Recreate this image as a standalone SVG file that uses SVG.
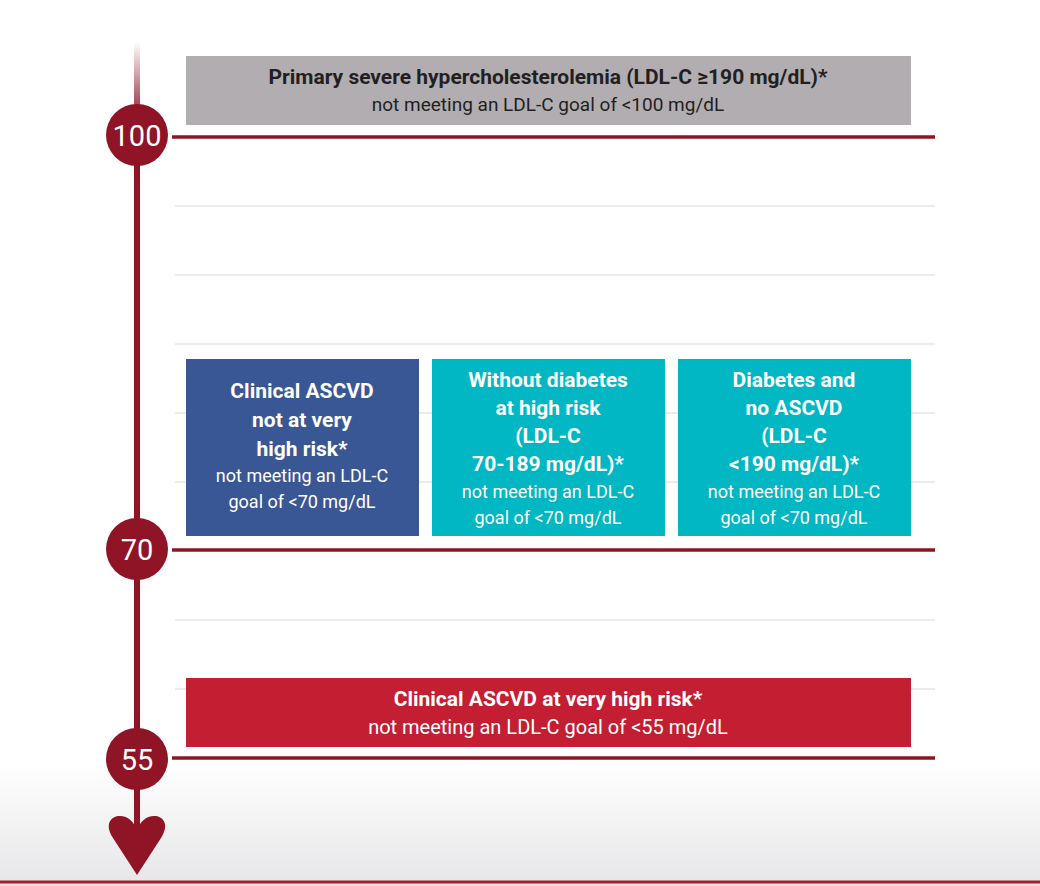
<svg xmlns="http://www.w3.org/2000/svg" width="1040" height="886" viewBox="0 0 1040 886">
<defs>
<linearGradient id="bg" x1="0" y1="0" x2="0" y2="1"><stop offset="0" stop-color="#fff"/><stop offset="1" stop-color="#e6e5e7"/></linearGradient>
<linearGradient id="ax" x1="0" y1="0" x2="0" y2="1"><stop offset="0" stop-color="#8f1426" stop-opacity="0"/><stop offset="1" stop-color="#8f1426"/></linearGradient>
<style>
text{font-family:"Roboto","Liberation Sans",sans-serif;text-anchor:middle}
.b{font-weight:bold;font-size:21px;fill:#fff}
.n{font-size:18px;fill:#fff}
.grid{stroke:#d9d8da;stroke-width:1}
.red{stroke:#8f1426;stroke-width:3.5}
.num{font-size:29px;fill:#fff}
</style>
</defs>
<rect width="1040" height="886" fill="#fff"/>
<rect y="765" width="1040" height="121" fill="url(#bg)"/>
<line x1="0" y1="882" x2="1040" y2="882" stroke="#a81c2e" stroke-width="3"/>
<g id="connectors">
<g class="grid"><line x1="175" y1="206" x2="935" y2="206"/><line x1="175" y1="275" x2="935" y2="275"/><line x1="175" y1="344" x2="935" y2="344"/><line x1="175" y1="413" x2="935" y2="413"/><line x1="175" y1="482" x2="935" y2="482"/><line x1="175" y1="620" x2="935" y2="620"/><line x1="175" y1="689" x2="935" y2="689"/></g>
<rect x="134" y="42" width="6" height="80" fill="url(#ax)"/>
<line x1="137" y1="120" x2="137" y2="830" stroke="#8f1426" stroke-width="6"/>
<line class="red" x1="172" y1="137" x2="935" y2="137"/>
<line class="red" x1="172" y1="550" x2="935" y2="550"/>
<line class="red" x1="172" y1="758" x2="935" y2="758"/>
<path d="M137,875 L113,838 C104,824 111,816 120,816 C128,816 134,822 137,830 C140,822 146,816 154,816 C163,816 170,824 161,838 Z" fill="#8f1426"/>
</g>
<g id="m100"><circle cx="137" cy="135" r="31" fill="#8f1426"/><text class="num" x="137" y="146">100</text></g>
<g id="m70"><circle cx="137" cy="549" r="31" fill="#8f1426"/><text class="num" x="137" y="560">70</text></g>
<g id="m55"><circle cx="137" cy="759" r="31" fill="#8f1426"/><text class="num" x="137" y="770">55</text></g>
<g id="primary"><rect x="186" y="56" width="725" height="69" fill="#b1adb1"/>
<text x="548" y="84" font-size="21" font-weight="bold" fill="#231f20">Primary severe hypercholesterolemia (LDL-C ≥190 mg/dL)*</text>
<text x="548" y="111" font-size="19" fill="#231f20">not meeting an LDL-C goal of &lt;100 mg/dL</text></g>
<g id="ascvd"><rect x="186" y="359" width="233" height="177" fill="#3a5795"/>
<text class="b" x="302" y="398">Clinical ASCVD</text><text class="b" x="302" y="427">not at very</text><text class="b" x="302" y="456">high risk*</text>
<text class="n" x="302" y="482">not meeting an LDL-C</text><text class="n" x="302" y="508">goal of &lt;70 mg/dL</text></g>
<g id="nodiab"><rect x="432" y="359" width="233" height="177" fill="#00b7c3"/>
<text class="b" x="548" y="387">Without diabetes</text><text class="b" x="548" y="415">at high risk</text><text class="b" x="548" y="443">(LDL-C</text><text class="b" x="548" y="471">70-189 mg/dL)*</text>
<text class="n" x="548" y="498">not meeting an LDL-C</text><text class="n" x="548" y="524">goal of &lt;70 mg/dL</text></g>
<g id="diab"><rect x="678" y="359" width="233" height="177" fill="#00b7c3"/>
<text class="b" x="794" y="387">Diabetes and</text><text class="b" x="794" y="415">no ASCVD</text><text class="b" x="794" y="443">(LDL-C</text><text class="b" x="794" y="471">&lt;190 mg/dL)*</text>
<text class="n" x="794" y="498">not meeting an LDL-C</text><text class="n" x="794" y="524">goal of &lt;70 mg/dL</text></g>
<g id="vhr"><rect x="186" y="678" width="725" height="69" fill="#c41e33"/>
<text class="b" x="548" y="706">Clinical ASCVD at very high risk*</text>
<text x="548" y="734" font-size="20" fill="#fff">not meeting an LDL-C goal of &lt;55 mg/dL</text></g>
</svg>
